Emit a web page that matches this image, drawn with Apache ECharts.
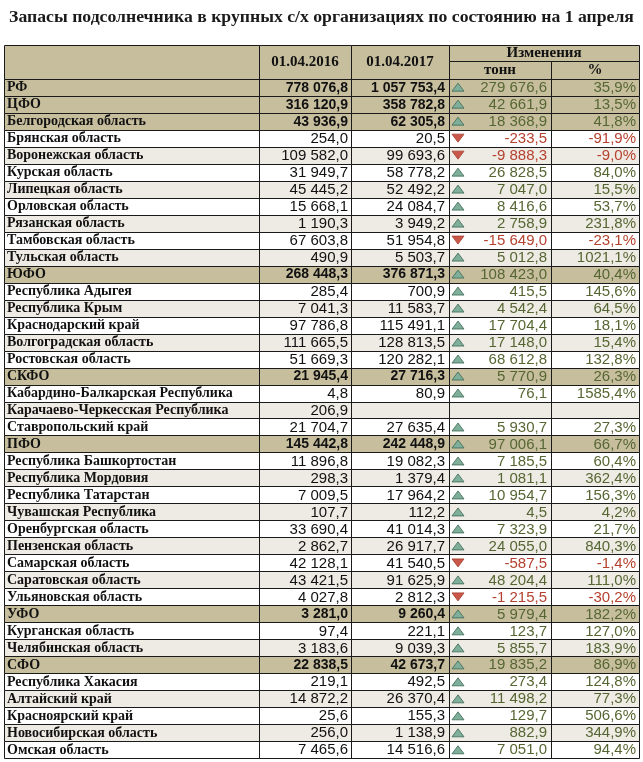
<!DOCTYPE html>
<html><head><meta charset="utf-8">
<script src="https://cdn.jsdelivr.net/npm/echarts@6/dist/echarts.min.js"></script>
<style>html,body{margin:0;padding:0;background:#fff}#c{width:643px;height:762px}</style>
</head><body><div id="c"></div><script>
const TITLE = 'Запасы подсолнечника в крупных с/х организациях по состоянию на 1 апреля';
const COL_HEADERS = ['01.04.2016', '01.04.2017'];
const CHANGE_HEADER = 'Изменения';
const CHANGE_SUBHEADERS = ['тонн', '%'];
const REGIONS = ['РФ','ЦФО','Белгородская область','Брянская область','Воронежская область','Курская область','Липецкая область','Орловская область','Рязанская область','Тамбовская область','Тульская область','ЮФО','Республика Адыгея','Республика Крым','Краснодарский край','Волгоградская область','Ростовская область','СКФО','Кабардино-Балкарская Республика','Карачаево-Черкесская Республика','Ставропольский край','ПФО','Республика Башкортостан','Республика Мордовия','Республика Татарстан','Чувашская Республика','Оренбургская область','Пензенская область','Самарская область','Саратовская область','Ульяновская область','УФО','Курганская область','Челябинская область','СФО','Республика Хакасия','Алтайский край','Красноярский край','Новосибирская область','Омская область'];
const TOTAL_ROWS = ['РФ','ЦФО','Белгородская область','ЮФО','СКФО','ПФО','УФО','СФО'];
const V2016 = [778076.8,316120.9,43936.9,254.0,109582.0,31949.7,45445.2,15668.1,1190.3,67603.8,490.9,268448.3,285.4,7041.3,97786.8,111665.5,51669.3,21945.4,4.8,206.9,21704.7,145442.8,11896.8,298.3,7009.5,107.7,33690.4,2862.7,42128.1,43421.5,4027.8,3281.0,97.4,3183.6,22838.5,219.1,14872.2,25.6,256.0,7465.6];
const V2017 = [1057753.4,358782.8,62305.8,20.5,99693.6,58778.2,52492.2,24084.7,3949.2,51954.8,5503.7,376871.3,700.9,11583.7,115491.1,128813.5,120282.1,27716.3,80.9,null,27635.4,242448.9,19082.3,1379.4,17964.2,112.2,41014.3,26917.7,41540.5,91625.9,2812.3,9260.4,221.1,9039.3,42673.7,492.5,26370.4,155.3,1138.9,14516.6];
const CHANGE_T = [279676.6,42661.9,18368.9,-233.5,-9888.3,26828.5,7047.0,8416.6,2758.9,-15649.0,5012.8,108423.0,415.5,4542.4,17704.4,17148.0,68612.8,5770.9,76.1,null,5930.7,97006.1,7185.5,1081.1,10954.7,4.5,7323.9,24055.0,-587.5,48204.4,-1215.5,5979.4,123.7,5855.7,19835.2,273.4,11498.2,129.7,882.9,7051.0];
const CHANGE_P = [35.9,13.5,41.8,-91.9,-9.0,84.0,15.5,53.7,231.8,-23.1,1021.1,40.4,145.6,64.5,18.1,15.4,132.8,26.3,1585.4,null,27.3,66.7,60.4,362.4,156.3,4.2,21.7,840.3,-1.4,111.0,-30.2,182.2,127.0,183.9,86.9,124.8,77.3,506.6,344.9,94.4];

// layout (styling only)
const COLS = [4, 259, 351, 449, 551, 639];
const TAN = '#c7be9e', STRIPE = '#eeebe4', LINE = '#1a1a1a';
const LABEL_FONT = 'bold 14px "Liberation Serif", serif';
const HEAD_FONT = 'bold 15px "Liberation Serif", serif';
const NUM_FONT = '15px "Liberation Sans Narrow", "Liberation Sans", sans-serif';
const NUM_BOLD = 'bold 14px "Liberation Sans Narrow", "Liberation Sans", sans-serif';
const POS = '#566632', NEG = '#b5412f';

function fmt(v) {
  const s = Math.abs(v).toFixed(1).split('.');
  const i = s[0].replace(/\B(?=(\d{3})+(?!\d))/g, ' ');
  return (v < 0 ? '-' : '') + i + ',' + s[1];
}
function fmtP(v) { return v.toFixed(1).replace('.', ',') + '%'; }
const px = v => Math.round(v) + 0.5;

const CATS = ['h1', 'h2'].concat(REGIONS);

const stripe = [];
let k = 0;
REGIONS.forEach((n) => { if (TOTAL_ROWS.includes(n)) { k = 0; stripe.push(null); } else { stripe.push(k % 2 === 1); k++; } });

function cellRect(x0, x1, yTop, h, fill) {
  return { type: 'rect', shape: { x: px(x0), y: px(yTop), width: Math.round(x1) - Math.round(x0), height: Math.round(yTop + h) - Math.round(yTop) },
    style: { fill: fill, stroke: LINE, lineWidth: 1 } };
}
function txt(t, x, y, align, font, color) {
  return { type: 'text', style: { text: t, x: x, y: y, align: align, verticalAlign: 'middle', font: font, fill: color } };
}

function renderHeader(params, api) {
  const c0 = api.coord([0, 0]);
  const h = api.size([0, 1])[1];
  const top = c0[1] - h / 2;
  const xs = COLS.map(c => api.coord([c, 0])[0]);
  const ch = [];
  ch.push(cellRect(xs[0], xs[1], top, 2 * h, TAN));
  ch.push(cellRect(xs[1], xs[2], top, 2 * h, TAN));
  ch.push(cellRect(xs[2], xs[3], top, 2 * h, TAN));
  ch.push(cellRect(xs[3], xs[5], top, h - 1, TAN));
  ch.push(cellRect(xs[3], xs[4], top + h - 1, h + 1, TAN));
  ch.push(cellRect(xs[4], xs[5], top + h - 1, h + 1, TAN));
  ch.push(txt(COL_HEADERS[0], (xs[1] + xs[2]) / 2, top + h, 'center', HEAD_FONT, '#111'));
  ch.push(txt(COL_HEADERS[1], (xs[2] + xs[3]) / 2, top + h, 'center', HEAD_FONT, '#111'));
  ch.push(txt(CHANGE_HEADER, (xs[3] + xs[5]) / 2, top + h / 2, 'center', HEAD_FONT, '#111'));
  ch.push(txt(CHANGE_SUBHEADERS[0], (xs[3] + xs[4]) / 2, top + h * 1.5, 'center', HEAD_FONT, '#111'));
  ch.push(txt(CHANGE_SUBHEADERS[1], (xs[4] + xs[5]) / 2, top + h * 1.5, 'center', HEAD_FONT, '#111'));
  return { type: 'group', children: ch };
}

function renderRow(params, api) {
  const i = params.dataIndex;
  const row = api.value(1);
  const c = api.coord([0, row]);
  const h = api.size([0, 1])[1];
  const yc = c[1], top = yc - h / 2;
  const xs = COLS.map(v => api.coord([v, row])[0]);
  const isTotal = TOTAL_ROWS.includes(REGIONS[i]);
  const fill = isTotal ? TAN : (stripe[i] ? STRIPE : '#ffffff');
  const ch = [];
  ch.push(cellRect(xs[0], xs[5], top, h, fill));
  for (let j = 1; j < 5; j++) {
    ch.push({ type: 'line', shape: { x1: px(xs[j]), y1: px(top), x2: px(xs[j]), y2: px(top + h) }, style: { stroke: LINE, lineWidth: 1 } });
  }
  const ty = yc + 0.5;
  ch.push(txt(REGIONS[i], xs[0] + 3, ty, 'left', LABEL_FONT, '#111'));
  const nf = isTotal ? NUM_BOLD : NUM_FONT;
  if (V2016[i] != null) ch.push(txt(fmt(V2016[i]), xs[2] - 3, ty, 'right', nf, '#111'));
  if (V2017[i] != null) ch.push(txt(fmt(V2017[i]), xs[3] - 4, ty, 'right', nf, '#111'));
  if (CHANGE_T[i] != null) {
    const neg = CHANGE_T[i] < 0;
    const col = neg ? NEG : POS;
    const ax = xs[3] + 3, aw = 12, ah = 8;
    if (neg) {
      ch.push({ type: 'polygon', shape: { points: [[ax, yc - ah / 2], [ax + aw, yc - ah / 2], [ax + aw / 2, yc + ah / 2]] }, style: { fill: '#c9574a', stroke: '#a5402f', lineWidth: 0.8 } });
    } else {
      ch.push({ type: 'polygon', shape: { points: [[ax, yc + ah / 2], [ax + aw, yc + ah / 2], [ax + aw / 2, yc - ah / 2]] }, style: { fill: '#7fae9a', stroke: '#3a6854', lineWidth: 0.8 } });
    }
    ch.push(txt(fmt(CHANGE_T[i]), xs[4] - 4, ty, 'right', NUM_FONT, col));
    ch.push(txt(fmtP(CHANGE_P[i]), xs[5] - 3, ty, 'right', NUM_FONT, col));
  }
  return { type: 'group', children: ch };
}

const chart = echarts.init(document.getElementById('c'), null, { renderer: 'canvas' });
chart.setOption({
  animation: false,
  backgroundColor: '#ffffff',
  title: { text: TITLE, left: 'center', top: 3, textStyle: { fontFamily: '"Liberation Serif", serif', fontWeight: 'bold', fontSize: 17.7, color: '#1a1a1a' } },
  grid: { left: 0, width: 643, top: 44.7, height: 713.6, containLabel: false },
  xAxis: { type: 'value', min: 0, max: 643, show: false },
  yAxis: { type: 'category', data: CATS, inverse: true, show: false },
  series: [
    { type: 'custom', renderItem: renderHeader, data: [[0, 0]], encode: { x: 0, y: 1 }, clip: false },
    { type: 'custom', renderItem: renderRow, data: REGIONS.map((n, i) => [0, i + 2]), encode: { x: 0, y: 1 }, clip: false }
  ]
});
</script></body></html>
